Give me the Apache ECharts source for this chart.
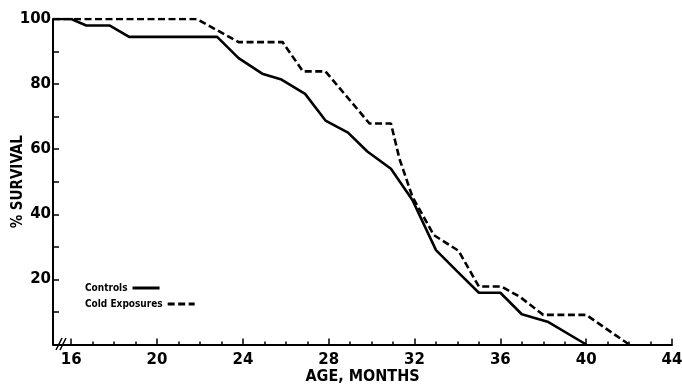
<!DOCTYPE html>
<html>
<head>
<meta charset="utf-8">
<script src="https://cdn.jsdelivr.net/npm/echarts@6/dist/echarts.min.js"></script>
<style>html,body{margin:0;padding:0;background:#fff}#c{width:682px;height:385px}</style>
</head>
<body>
<div id="c"></div>
<script>
// Data
var controlsAge  = [15.15, 16, 16.7, 17.8, 18.7, 22.8, 23.8, 24.9, 25.8, 26.9, 27.85, 28.9, 29.8, 30.9, 31.9, 33.0, 34.0, 35.0, 36.0, 37.0, 38.2, 40.0];
var controlsSurv = [100, 100, 98, 98, 94.5, 94.5, 88, 83.2, 81.4, 77, 68.8, 65.1, 59.3, 54, 44.4, 29, 22.4, 15.9, 15.9, 9.3, 7, 0];
var coldAge  = [15.15, 21.85, 23.8, 25.85, 26.8, 27.85, 29.9, 30.9, 31.3, 31.9, 32.9, 34.05, 35.0, 36.05, 36.9, 38.0, 40.0, 42.0];
var coldSurv = [100, 100, 92.9, 92.9, 83.9, 83.9, 67.9, 67.9, 57, 45.4, 33.6, 28.8, 17.8, 17.8, 14.7, 9.1, 9.1, 0];
var xMajorTicks = [16, 20, 24, 28, 32, 36, 40, 44];
var xMinorTicks = [16,17,18,19,20,21,22,23,24,25,26,27,28,29,30,31,32,33,34,35,36,37,38,39,40,41,42,43,44];
var yLabelValues = [20, 40, 60, 80, 100];
var seriesNames = ['Controls', 'Cold Exposures'];

function pairs(a, b) { return a.map(function (v, i) { return [v, b[i]]; }); }

var chart = echarts.init(document.getElementById('c'));
var numFont = 'DejaVu Sans';
var condFont = 'DejaVu Sans Condensed';
function legendFor(name, top) {
  return {
    show: true,
    orient: 'horizontal',
    align: 'right',
    left: 85,
    top: top,
    itemWidth: 27,
    itemHeight: 2,
    padding: 0,
    selectedMode: false,
    itemStyle: { opacity: 0 },
    lineStyle: { width: 3 },
    textStyle: { fontFamily: condFont, fontWeight: 'bold', fontSize: 10, color: '#000', padding: [0, 0, 0, 0] },
    data: [name]
  };
}
chart.setOption({
  animation: false,
  backgroundColor: '#fff',
  grid: { left: 53, right: 10, top: 19, bottom: 40.5, containLabel: false, outerBoundsMode: 'none' },
  legend: [legendFor(seriesNames[0], 283), legendFor(seriesNames[1], 299)],
  xAxis: [{
    type: 'value',
    min: 15.15,
    max: 44,
    position: 'bottom',
    name: 'AGE, MONTHS',
    nameLocation: 'middle',
    nameGap: 24,
    nameMoveOverlap: false,
    nameTextStyle: { fontFamily: condFont, fontWeight: 'bold', fontSize: 16, color: '#000' },
    axisLine: { show: true, onZero: false, lineStyle: { color: '#000', width: 2 } },
    axisTick: { show: true, inside: true, length: 6, customValues: xMajorTicks, lineStyle: { color: '#000', width: 1.5 } },
    axisLabel: { show: true, customValues: xMajorTicks, margin: 8, fontFamily: numFont, fontWeight: 'bold', fontSize: 15, color: '#000' },
    splitLine: { show: false }
  }, {
    type: 'value',
    min: 15.15,
    max: 44,
    position: 'bottom',
    axisLine: { show: false, onZero: false },
    axisTick: { show: true, inside: true, length: 3, customValues: xMinorTicks, lineStyle: { color: '#000', width: 1.5 } },
    axisLabel: { show: false },
    splitLine: { show: false }
  }],
  yAxis: {
    type: 'value',
    min: 0,
    max: 100,
    interval: 10,
    name: '% SURVIVAL',
    nameLocation: 'middle',
    nameGap: 27,
    nameRotate: 90,
    nameMoveOverlap: false,
    nameTextStyle: { fontFamily: condFont, fontWeight: 'bold', fontSize: 15, color: '#000' },
    axisLine: { show: true, lineStyle: { color: '#000', width: 2 } },
    axisTick: { show: true, inside: true, length: 6, lineStyle: { color: '#000', width: 1.5 } },
    axisLabel: {
      margin: 2,
      fontFamily: numFont, fontWeight: 'bold', fontSize: 15, color: '#000',
      formatter: function (v) { return yLabelValues.indexOf(v) >= 0 ? String(v) : ''; }
    },
    splitLine: { show: false }
  },
  series: [{
    name: seriesNames[0],
    type: 'line',
    xAxisIndex: 0,
    data: pairs(controlsAge, controlsSurv),
    symbol: 'none',
    lineStyle: { color: '#000', width: 2.6, type: 'solid' },
    itemStyle: { color: '#000' }
  }, {
    name: seriesNames[1],
    type: 'line',
    xAxisIndex: 0,
    data: pairs(coldAge, coldSurv),
    symbol: 'none',
    lineStyle: { color: '#000', width: 2.6, type: [7, 3.5] },
    itemStyle: { color: '#000' }
  }],
  graphic: [
    { type: 'line', shape: { x1: 56, y1: 350, x2: 62, y2: 338 }, style: { stroke: '#000', lineWidth: 1.6 } },
    { type: 'line', shape: { x1: 60, y1: 350, x2: 66, y2: 338 }, style: { stroke: '#000', lineWidth: 1.6 } }
  ]
});
</script>
</body>
</html>
